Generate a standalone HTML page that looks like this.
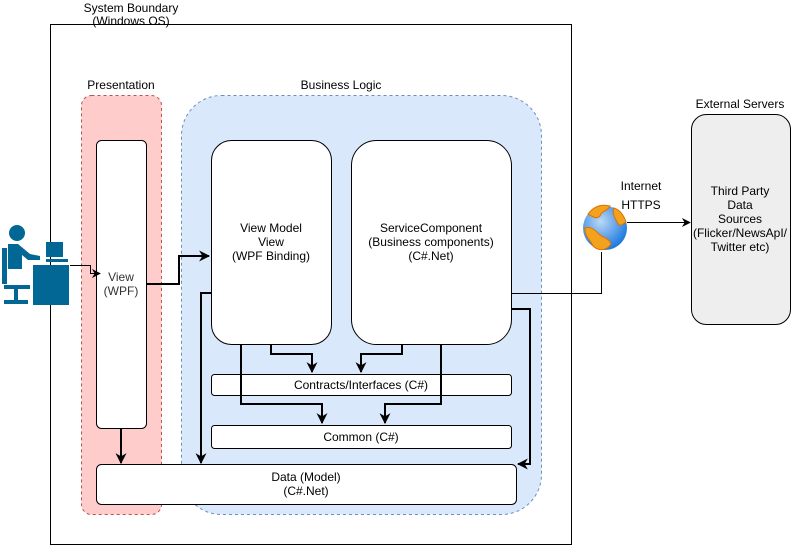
<!DOCTYPE html>
<html><head><style>body{margin:0;background:#fff}svg{display:block;font-family:"Liberation Sans",sans-serif;font-size:12px}</style></head><body>
<svg width="792" height="545" viewBox="0 0 792 545" xmlns="http://www.w3.org/2000/svg">
<defs>
<marker id="b" viewBox="0 0 10 10" refX="9" refY="5" markerWidth="11" markerHeight="11" orient="auto" markerUnits="userSpaceOnUse"><path d="M0,0L10,5L0,10L3,5z" fill="#000"/></marker>
<marker id="s" viewBox="0 0 10 10" refX="9" refY="5" markerWidth="9" markerHeight="9" orient="auto" markerUnits="userSpaceOnUse"><path d="M0,0L10,5L0,10L3,5z" fill="#000"/></marker>
<radialGradient id="g" cx="40%" cy="35%" r="65%"><stop offset="0" stop-color="#bcd8f5"/><stop offset="1" stop-color="#1e7be0"/></radialGradient>
</defs>
<rect x="50.5" y="24.5" width="521" height="520" fill="#fff" stroke="#000"/>
<text x="131" y="12" text-anchor="middle">System Boundary</text>
<text x="131" y="25" text-anchor="middle">(Windows OS)</text>
<rect x="81.5" y="95.5" width="80" height="419" rx="10" fill="#ffcccc" stroke="#b85450" stroke-dasharray="3,3"/>
<text x="121" y="89" text-anchor="middle">Presentation</text>
<rect x="181.5" y="95.5" width="360" height="419" rx="40" fill="#dae8fc" stroke="#6c8ebf" stroke-dasharray="3,3"/>
<text x="341" y="89" text-anchor="middle">Business Logic</text>
<rect x="96.5" y="140.5" width="50" height="288" rx="5" fill="#fff" stroke="#000"/>
<text x="121" y="281" text-anchor="middle" fill="#333">View</text>
<text x="121" y="295" text-anchor="middle" fill="#333">(WPF)</text>
<rect x="211.5" y="140.5" width="120" height="204" rx="20" fill="#fff" stroke="#000"/>
<text x="271" y="232" text-anchor="middle">View Model</text>
<text x="271" y="246" text-anchor="middle">View</text>
<text x="271" y="260" text-anchor="middle">(WPF Binding)</text>
<rect x="351.5" y="140.5" width="160" height="204" rx="25" fill="#fff" stroke="#000"/>
<text x="431" y="232" text-anchor="middle">ServiceComponent</text>
<text x="431" y="246" text-anchor="middle">(Business components)</text>
<text x="431" y="260" text-anchor="middle">(C#.Net)</text>
<rect x="211.5" y="374.5" width="300" height="21" rx="3" fill="#fff" stroke="#000"/>
<text x="361" y="389" text-anchor="middle">Contracts/Interfaces (C#)</text>
<rect x="211.5" y="425.5" width="300" height="23" rx="3" fill="#fff" stroke="#000"/>
<text x="361" y="441" text-anchor="middle">Common (C#)</text>
<rect x="96.5" y="464.5" width="420" height="40" rx="5" fill="#fff" stroke="#000"/>
<text x="306" y="481" text-anchor="middle">Data (Model)</text>
<text x="306" y="495" text-anchor="middle">(C#.Net)</text>
<rect x="691.5" y="114.5" width="99" height="210" rx="15" fill="#eeeeee" stroke="#000"/>
<text x="740" y="108" text-anchor="middle">External Servers</text>
<text x="740" y="195" text-anchor="middle">Third Party</text>
<text x="740" y="209" text-anchor="middle">Data</text>
<text x="740" y="223" text-anchor="middle">Sources</text>
<text x="740" y="237" text-anchor="middle">(Flicker/NewsApI/</text>
<text x="740" y="251" text-anchor="middle">Twitter etc)</text>
<text x="641" y="190" text-anchor="middle">Internet</text>
<text x="641" y="209" text-anchor="middle">HTTPS</text>
<g fill="none" stroke="#000" stroke-width="2">
<path d="M146,284H179V256H209" marker-end="url(#b)"/>
<path d="M211,293H201V463" marker-end="url(#b)"/>
<path d="M511,309H530V464H518" marker-end="url(#b)"/>
<path d="M241,344V404H322V423" marker-end="url(#b)"/>
<path d="M271,344V354H312V372" marker-end="url(#b)"/>
<path d="M402,344V354H361V372" marker-end="url(#b)"/>
<path d="M441,344V404H385V423" marker-end="url(#b)"/>
<path d="M121,428V463" marker-end="url(#b)"/>
</g>
<g fill="none" stroke="#000" stroke-width="1">
<path d="M70,265.5H90.5V273.5H100" marker-end="url(#s)"/>
<path d="M511,293.5H601.5V252"/>
<path d="M627,222.5H690" marker-end="url(#s)"/>
</g>
<circle cx="605" cy="228" r="22" fill="url(#g)"/>
<path d="M588,214c6,-8 14,-10 22,-8c-3,6 -8,4 -10,10c-4,4 -8,0 -12,-2zM614,208c6,2 10,8 12,14c-4,2 -6,6 -9,0c-2,-4 -5,-8 -3,-14zM585,228c6,-2 10,2 14,6c4,4 10,4 12,10c-4,6 -12,8 -18,2c-2,-6 -8,-8 -8,-18z" fill="#f2a21c" stroke="#e07000" stroke-width="1"/>
<g fill="#036796">
<circle cx="17" cy="233" r="8"/>
<path d="M8,244h10l12,10l10,2v4h-12l-6,-5v14h-14z"/>
<rect x="2" y="248" width="5" height="36"/>
<rect x="4" y="285" width="26" height="4"/>
<rect x="14" y="289" width="4" height="12"/>
<rect x="4" y="300" width="24" height="4"/>
<rect x="46" y="242" width="17" height="15"/>
<rect x="46" y="259" width="22" height="3"/>
<rect x="33" y="265" width="36" height="40"/>
</g>
</svg>
</body></html>
